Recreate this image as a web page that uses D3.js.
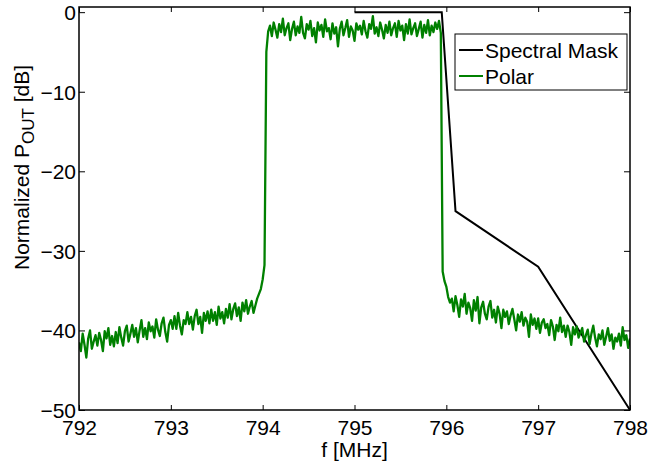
<!DOCTYPE html>
<html><head><meta charset="utf-8">
<script src="https://cdn.jsdelivr.net/npm/d3@7"></script>
<style>
html,body{margin:0;padding:0;background:#fff;}
svg{display:block;font-family:"Liberation Sans",Arial,Helvetica,sans-serif;}
</style></head>
<body><svg id="chart" width="648" height="461"></svg>
<script>
// ---- data ----
const xTicks = [792, 793, 794, 795, 796, 797, 798];
const yTicks = [0, -10, -20, -30, -40, -50];
const maskFreq = [795, 795.95, 796.1, 797, 798];
const maskDb   = [0, 0, -25, -32, -50];
const polarStart = 792.0;   // MHz, first sample
const polarStep  = 0.02;    // MHz between samples
const polarDb = [
 -41.5,-42.6,-40.4,-41.8,-43.4,-41.0,-40.0,-42.3,-41.4,-40.6,
 -41.9,-40.3,-41.2,-42.6,-40.1,-41.0,-39.7,-41.8,-40.7,-42.0,
 -40.2,-41.6,-39.6,-40.9,-41.9,-40.1,-39.4,-41.4,-40.4,-39.3,
 -40.8,-39.7,-41.5,-40.0,-38.7,-40.8,-39.7,-41.1,-39.0,-40.1,
 -39.5,-40.9,-38.6,-39.9,-40.7,-39.1,-38.4,-40.2,-41.4,-39.3,
 -38.7,-39.8,-38.2,-39.8,-37.8,-39.4,-40.5,-38.7,-39.2,-37.7,
 -39.2,-38.3,-39.9,-38.2,-37.4,-39.2,-38.3,-40.3,-37.8,-38.8,
 -37.6,-39.1,-37.4,-38.8,-37.7,-39.3,-37.0,-38.5,-37.7,-39.1,
 -37.3,-38.4,-36.7,-38.6,-37.3,-36.6,-38.2,-37.1,-38.8,-36.5,
 -37.6,-36.2,-37.9,-37.0,-36.3,-37.8,-36.9,-36.0,-35.4,-34.8,
 -33.6,
 -31.8,-5.0,
 -2.4,-1.7,-3.0,-1.3,-2.2,-3.2,-1.5,-2.5,-0.8,-2.9,
 -2.0,-1.4,-3.5,-2.1,-1.2,-2.9,-1.8,-2.6,-0.6,-2.6,
 -3.3,-1.5,-2.2,-1.1,-3.0,-2.0,-3.8,-1.3,-2.3,-1.6,
 -3.1,-0.9,-2.4,-2.0,-3.4,-1.4,-2.7,-1.9,-4.3,-2.1,
 -1.2,-2.9,-2.0,-1.0,-3.1,-1.8,-2.3,-3.6,-1.4,-2.2,
 -1.7,-2.8,-1.1,-2.4,-3.2,-1.5,-2.1,-0.5,-2.7,-1.9,
 -3.0,-1.3,-2.2,-3.3,-1.6,-2.6,-1.2,-2.9,-2.0,-1.4,
 -3.1,-1.1,-2.3,-1.7,-3.5,-1.5,-2.7,-0.9,-2.8,-2.0,
 -1.4,-3.0,-2.1,-1.2,-3.2,-1.6,-2.6,-1.0,-2.9,-1.7,
 -2.5,-1.3,-2.1,-1.1,
 -2.6,-32.6,-33.8,-34.5,-35.8,-36.5,
 -36.0,-37.6,-35.7,-36.8,-38.3,-36.1,-37.0,-35.4,-37.9,-36.5,
 -37.2,-38.8,-36.2,-37.5,-35.8,-39.1,-37.1,-36.4,-37.9,-38.6,
 -37.0,-36.3,-38.4,-37.4,-39.0,-37.0,-37.9,-39.7,-37.4,-38.3,
 -37.6,-39.2,-38.1,-37.3,-38.6,-40.0,-38.0,-38.9,-37.7,-39.4,
 -38.4,-38.9,-40.8,-38.0,-39.3,-38.5,-39.8,-38.5,-40.3,-39.0,
 -38.6,-39.7,-39.2,-40.6,-38.7,-39.5,-41.2,-39.3,-40.1,-38.4,
 -40.2,-39.4,-40.8,-39.4,-40.2,-41.8,-39.6,-40.5,-39.5,-40.9,
 -40.3,-39.7,-41.4,-40.6,-39.9,-41.7,-40.4,-39.4,-40.9,-42.0,
 -40.5,-41.1,-40.0,-41.8,-40.8,-39.7,-41.3,-40.5,-42.3,-40.9,
 -41.4,-40.4,-41.9,-39.6,-41.2,-40.6,-42.2,-41.0
];
const seriesNames = ["Spectral Mask", "Polar"];
const seriesColors = ["#000000", "#008000"];

// ---- layout ----
const svg = d3.select("#chart");
const L = 79, R = 630, T = 7, B = 410;
const x = d3.scaleLinear().domain([792, 798]).range([L, R]);
const y = d3.scaleLinear().domain([-50, 0.65]).range([B, T]);

svg.append("clipPath").attr("id","clip")
  .append("rect").attr("x",L).attr("y",T).attr("width",R-L).attr("height",B-T);

const polarData = polarDb.map((v,i)=>({f: polarStart + i*polarStep, v}));
const maskData = maskFreq.map((f,i)=>({f, v: maskDb[i]}));
const line = d3.line().x(d=>x(d.f)).y(d=>y(d.v));

const lines = svg.append("g").attr("clip-path","url(#clip)");
lines.append("path").datum(maskData).attr("d",line)
  .attr("fill","none").attr("stroke",seriesColors[0]).attr("stroke-width",2);
lines.append("path").datum(polarData).attr("d",line)
  .attr("fill","none").attr("stroke",seriesColors[1]).attr("stroke-width",2.3)
  .attr("stroke-linejoin","round");

// axes with inward ticks
const fs = 21;
const axB = svg.append("g").attr("transform",`translate(0,${B})`)
  .call(d3.axisBottom(x).tickValues(xTicks).tickFormat(d3.format("d")).tickSize(-5));
const axT = svg.append("g").attr("transform",`translate(0,${T})`)
  .call(d3.axisTop(x).tickValues(xTicks).tickFormat("").tickSize(-5));
const axL = svg.append("g").attr("transform",`translate(${L},0)`)
  .call(d3.axisLeft(y).tickValues(yTicks).tickFormat(d3.format("d")).tickSize(-6).tickPadding(3));
const axR = svg.append("g").attr("transform",`translate(${R},0)`)
  .call(d3.axisRight(y).tickValues(yTicks).tickFormat("").tickSize(-6));
[axB,axT,axL,axR].forEach(a=>{
  a.select(".domain").remove();
  a.selectAll(".tick line").attr("stroke","#000").attr("stroke-width",1);
  a.selectAll(".tick text").attr("fill","#000").attr("font-size",fs)
   .attr("font-family","Liberation Sans, Arial, sans-serif");
});
axB.selectAll(".tick text").attr("dy",null).attr("y",25);
axL.selectAll(".tick text").attr("dy","0.36em");

// frame
svg.append("rect").attr("x",L).attr("y",T).attr("width",R-L).attr("height",B-T)
  .attr("fill","none").attr("stroke","#000").attr("stroke-width",1.5);

// axis labels
svg.append("text").attr("x",(L+R)/2).attr("y",457).attr("text-anchor","middle")
  .attr("font-size",fs).text("f [MHz]");
const yl = svg.append("text").attr("transform","translate(29,270) rotate(-90)")
  .attr("text-anchor","start").attr("font-size",fs);
yl.append("tspan").text("Normalized P");
yl.append("tspan").attr("font-size",17).attr("dy",5).text("OUT");
yl.append("tspan").attr("dy",-5).text(" [dB]");

// legend
const lg = svg.append("g");
lg.append("rect").attr("x",455).attr("y",34).attr("width",172).attr("height",56)
  .attr("fill","#fff").attr("stroke","#000").attr("stroke-width",1);
const lgY = [50, 76];
seriesNames.forEach((n,i)=>{
  lg.append("line").attr("x1",459).attr("x2",483).attr("y1",lgY[i]).attr("y2",lgY[i])
    .attr("stroke",seriesColors[i]).attr("stroke-width",2);
  lg.append("text").attr("x",485).attr("y",lgY[i]).attr("dy","0.36em")
    .attr("font-size",fs).text(n);
});
</script></body></html>
